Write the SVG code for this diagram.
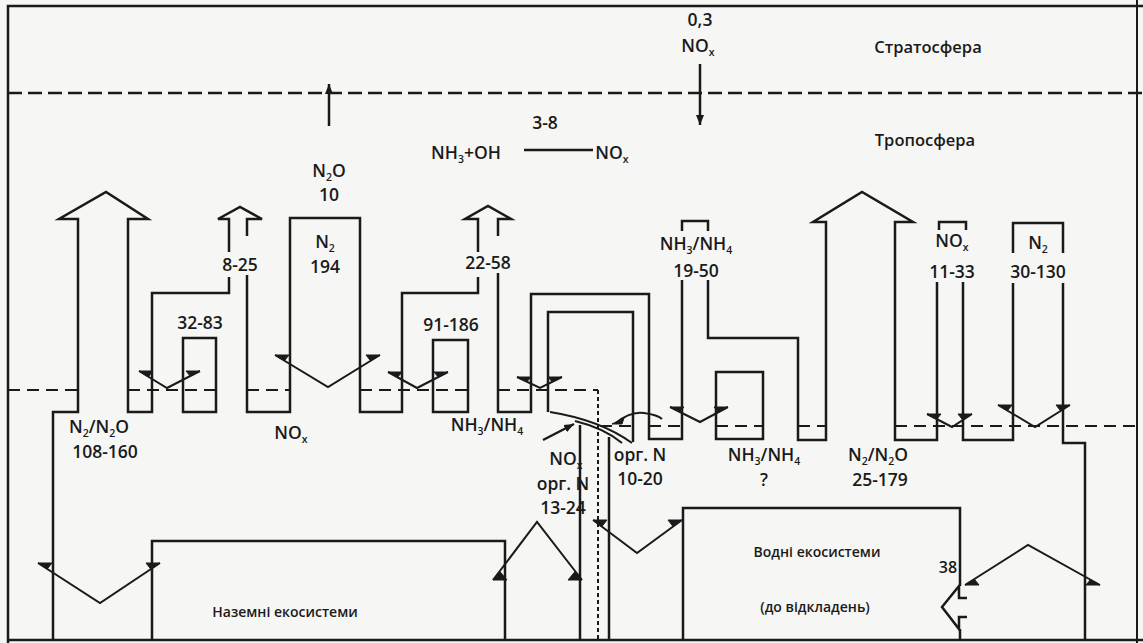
<svg xmlns="http://www.w3.org/2000/svg" width="1143" height="643" viewBox="0 0 1143 643">
<defs>
<style>
.ln{fill:none;stroke:#1a1a1a;stroke-width:2.5;stroke-linejoin:miter;stroke-linecap:butt}
.th{fill:none;stroke:#1a1a1a;stroke-width:2}
.dash{fill:none;stroke:#1a1a1a;stroke-width:2;stroke-dasharray:12 7}
.dot{fill:none;stroke:#1a1a1a;stroke-width:2;stroke-dasharray:4 3}
.v{fill:none;stroke:#1a1a1a;stroke-width:2}
.fl{fill:#1a1a1a;stroke:#1a1a1a;stroke-width:1;stroke-linejoin:miter}
text{font-family:"Open Sans","Liberation Sans",sans-serif;font-weight:600;fill:#1a1a1a;text-anchor:middle;font-size:17.5px}
.sp{font-size:16.5px}
.eco{font-size:14px}
.s{font-size:10.5px}
</style>
<marker id="ah" viewBox="-10 -5 11 10" refX="0" refY="0" markerWidth="11" markerHeight="10" markerUnits="userSpaceOnUse" orient="auto">
<path d="M0,0 L-10,-4 L-10,4 Z" fill="#1a1a1a"/>
</marker>
</defs>
<rect width="1143" height="643" fill="#f6f6f4"/>

<g id="frame">
<path class="ln" d="M8,643 V6 H1143"/>
<path class="th" d="M1137,0 V643"/>
<path class="ln" d="M8,640 H1143"/>
<path class="ln" d="M8,93 H1143" style="stroke-dasharray:14 6"/>
</g>

<g id="atmosphere">
<text class="sp" x="928" y="53">Стратосфера</text>
<text class="sp" x="925" y="146">Тропосфера</text>
<text x="700" y="26">0,3</text>
<text x="698" y="52">NO<tspan class="s" dy="4">x</tspan></text>
<text x="329" y="177">N<tspan class="s" dy="4">2</tspan><tspan dy="-4">O</tspan></text>
<text x="329" y="201">10</text>
<text x="545" y="129">3-8</text>
<text x="466" y="159">NH<tspan class="s" dy="4">3</tspan><tspan dy="-4">+OH</tspan></text>
<text x="612" y="159">NO<tspan class="s" dy="4">x</tspan></text>
</g>

<g id="connectors">
<path class="ln" d="M329,126 V84" marker-end="url(#ah)"/>
<path class="ln" d="M700,64 V125" marker-end="url(#ah)"/>
<path class="ln" d="M524,150 H593"/>
<path class="ln" d="M543,440 L574,424" marker-end="url(#ah)"/>
<path class="th" d="M550,412 Q600,420 632,443"/>
<path class="th" d="M575,421 Q604,428 622,443"/>
<path class="th" d="M616,423 Q630,411 644,413 T662,419"/>
<polygon class="fl" points="612,424 624,418 622,424"/>
</g>

<g id="flows-land">
<path class="ln" d="M53,640 V412 H78 V219 H59 L106,192 L148,219 H128 V412 H152 V293 H229 V277"/>
<path class="ln" d="M229,252 V219 H218 L240,207 L262,219 H247 V236"/>
<path class="ln" d="M247,275 V412 H290 V218 H360 V412 H402 V293 H478 V277"/>
<path class="ln" d="M478,252 V219 H465 L488,206 L511,219 H498 V236"/>
<path class="ln" d="M498,273 V412 H531 V294 H649 V439 H682 V280"/>
<rect class="ln" x="183" y="338" width="33" height="74"/>
<rect class="ln" x="433" y="340" width="35" height="72"/>
<path class="ln" d="M548,412 V312 H633 V442"/>
<path class="ln" d="M580,425 V640"/>
<path class="ln" d="M609,437 V640"/>
</g>

<g id="flows-water">
<path class="ln" d="M682,231 V221 H708 V231"/>
<path class="ln" d="M708,280 V338 H798 V440 H826 V222 H813 L862,192 L913,222 H895 V440 H937 V282"/>
<path class="ln" d="M939,230 V222 H966 V230"/>
<path class="ln" d="M963,282 V440 H1013 V283"/>
<path class="ln" d="M1013,253 V223 H1063 V253"/>
<path class="ln" d="M1063,283 V443 H1085 V640"/>
<rect class="ln" x="716" y="372" width="47" height="67"/>
</g>

<g id="boundaries">
<path class="dash" d="M8,390 H78 M128,390 H216 M247,390 H290 M360,390 H468 M498,390 H598"/>
<path class="dot" d="M598,390 V640"/>
<path class="dash" d="M600,426 H633 M649,426 H682 M716,426 H763 M798,426 H826 M895,426 H1137"/>
</g>

<g id="exchanges">
<polyline class="v" points="139,371 167,388 200,371"/>
<polygon class="fl" points="139,371 153,371 148.4,376.7"/>
<polygon class="fl" points="200,371 186,371 190.2,376"/>
<polyline class="v" points="275,355 328,387 380,355"/>
<polygon class="fl" points="275,355 289,355 284.4,360.7"/>
<polygon class="fl" points="380,355 366,355 370.6,360.8"/>
<polyline class="v" points="388,372 417,388 448,372"/>
<polygon class="fl" points="388,372 402,372 397.6,377.3"/>
<polygon class="fl" points="448,372 434,372 438.2,377"/>
<polyline class="v" points="517,377 540,388 562,377"/>
<polygon class="fl" points="517,377 531,377 526.9,381.7"/>
<polygon class="fl" points="562,377 548,377 552.2,381.9"/>
<polyline class="v" points="670,407 700,422 728,407"/>
<polygon class="fl" points="670,407 684,407 679.8,411.9"/>
<polygon class="fl" points="728,407 714,407 718.3,412.2"/>
<polyline class="v" points="927,414 952,427 972,414"/>
<polygon class="fl" points="927,414 941,414 936.8,419.1"/>
<polygon class="fl" points="972,414 958,414 962.8,420"/>
<polyline class="v" points="998,405 1035,427 1070,405"/>
<polygon class="fl" points="998,405 1012,405 1007.5,410.6"/>
<polygon class="fl" points="1070,405 1056,405 1060.7,410.9"/>
<polyline class="v" points="38,563 100,603 160,563"/>
<polygon class="fl" points="38,563 52,563 47.2,569"/>
<polygon class="fl" points="160,563 146,563 150.8,569.1"/>
<polyline class="v" points="493,580 537,522 582,580"/>
<polygon class="fl" points="493,580 507,580 499.6,571.2"/>
<polygon class="fl" points="582,580 568,580 575.3,571.3"/>
<polyline class="v" points="593,520 637,553 682,520"/>
<polygon class="fl" points="593,520 607,520 601.8,526.6"/>
<polygon class="fl" points="682,520 668,520 673.1,526.5"/>
<polyline class="v" points="965,585 1028,545 1100,585"/>
<polygon class="fl" points="965,585 979,585 974.3,579.1"/>
<polygon class="fl" points="1100,585 1086,585 1090.4,579.7"/>
</g>

<g id="flow-labels">
<text x="240" y="271">8-25</text>
<text x="325" y="248">N<tspan class="s" dy="4">2</tspan></text>
<text x="325" y="273">194</text>
<text x="200" y="329">32-83</text>
<text x="488" y="269">22-58</text>
<text x="451" y="331">91-186</text>
<text x="696" y="250">NH<tspan class="s" dy="4">3</tspan><tspan dy="-4">/NH</tspan><tspan class="s" dy="4">4</tspan></text>
<text x="696" y="277">19-50</text>
<text x="952" y="247">NO<tspan class="s" dy="4">x</tspan></text>
<text x="952" y="278">11-33</text>
<text x="1038" y="249">N<tspan class="s" dy="4">2</tspan></text>
<text x="1038" y="278">30-130</text>
<text x="99" y="433">N<tspan class="s" dy="4">2</tspan><tspan dy="-4">/N</tspan><tspan class="s" dy="4">2</tspan><tspan dy="-4">O</tspan></text>
<text x="105" y="458">108-160</text>
<text x="291" y="439">NO<tspan class="s" dy="4">x</tspan></text>
<text x="487" y="431">NH<tspan class="s" dy="4">3</tspan><tspan dy="-4">/NH</tspan><tspan class="s" dy="4">4</tspan></text>
<text x="566" y="465">NO<tspan class="s" dy="4">x</tspan></text>
<text x="563" y="490">орг. N</text>
<text x="563" y="514">13-24</text>
<text x="640" y="461">орг. N</text>
<text x="640" y="485">10-20</text>
<text x="764" y="461">NH<tspan class="s" dy="4">3</tspan><tspan dy="-4">/NH</tspan><tspan class="s" dy="4">4</tspan></text>
<text x="764" y="486">?</text>
<text x="878" y="461">N<tspan class="s" dy="4">2</tspan><tspan dy="-4">/N</tspan><tspan class="s" dy="4">2</tspan><tspan dy="-4">O</tspan></text>
<text x="880" y="486">25-179</text>
</g>

<g id="land-ecosystems">
<path class="ln" d="M152,640 V541 H505 V640"/>
<text class="eco" x="285" y="617">Наземні екосистеми</text>
</g>

<g id="water-ecosystems">
<path class="ln" d="M683,640 V508 H960 V586 M960,629 V640"/>
<path class="ln" d="M967,598 H959 V586 L942,607 L959,629 V617 H967"/>
<text class="eco" x="817" y="557">Водні екосистеми</text>
<text x="948" y="573" style="font-size:16px">38</text>
<text class="eco" x="815" y="612">(до відкладень)</text>
</g>
</svg>
